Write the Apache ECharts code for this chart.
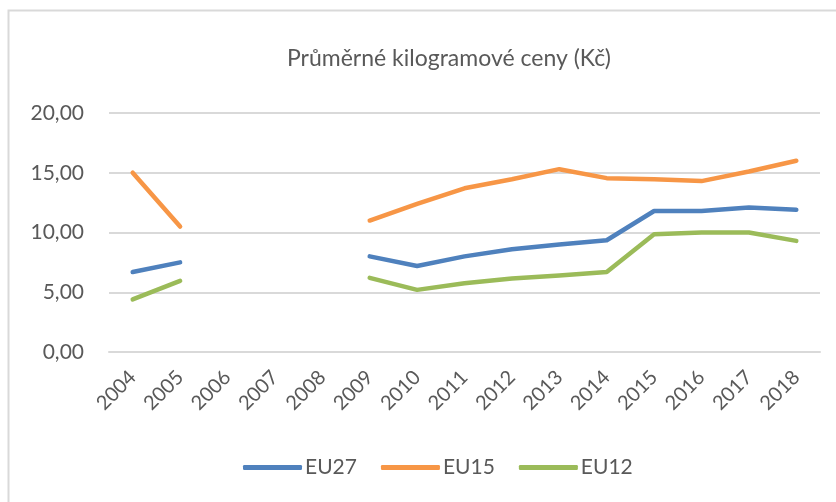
<!DOCTYPE html>
<html>
<head>
<meta charset="utf-8">
<script src="https://cdn.jsdelivr.net/npm/echarts@6/dist/echarts.min.js"></script>
<style>
  html, body { margin: 0; padding: 0; background: #fff; }
  #chart { width: 836px; height: 502px; }
</style>
</head>
<body>
<div id="chart"></div>
<script>
// roky
var years = ['2004', '2005', '2006', '2007', '2008', '2009', '2010', '2011', '2012', '2013', '2014', '2015', '2016', '2017', '2018']
// prumerne kilogramove ceny (Kc), null = chybi data
var eu27 = [6.7, 7.5, null, null, null, 8.0, 7.2, 8.0, 8.6, 9.0, 9.35, 11.8, 11.8, 12.1, 11.9]
var eu15 = [15.0, 10.5, null, null, null, 11.0, 12.4, 13.7, 14.45, 15.3, 14.55, 14.45, 14.3, 15.1, 16.0]
var eu12 = [4.4, 5.95, null, null, null, 6.2, 5.2, 5.75, 6.15, 6.4, 6.7, 9.85, 10.0, 10.0, 9.3]
var yTicks = [0, 5, 10, 15, 20]

var textColor = '#595959'
var font = 'Lato, "Open Sans", sans-serif'

var chart = echarts.init(document.getElementById('chart'))

function makeSeries(name, data, color) {
  return {
    name: name,
    type: 'line',
    data: data,
    showSymbol: false,
    symbol: 'none',
    connectNulls: false,
    lineStyle: { color: color, width: 4.5, cap: 'round', join: 'round' },
    itemStyle: { color: color },
    animation: false
  }
}

chart.setOption({
  backgroundColor: '#fff',
  graphic: [{
    type: 'rect',
    shape: { x: 8.5, y: 10.5, width: 840, height: 500 },
    style: { fill: 'none', stroke: '#d9d9d9', lineWidth: 2 },
    silent: true
  }],
  title: {
    text: 'Průměrné kilogramové ceny (Kč)',
    left: 282,
    top: 42,
    textStyle: { color: textColor, fontFamily: font, fontSize: 23, fontWeight: 'normal' }
  },
  grid: { left: 109, right: 16, top: 113, bottom: 150 },
  legend: {
    data: ['EU27', 'EU15', 'EU12'],
    left: 238,
    top: 452,
    icon: 'roundRect',
    itemWidth: 59,
    itemHeight: 5,
    itemGap: 24,
    textStyle: { color: textColor, fontFamily: font, fontSize: 21, padding: [0, 0, 0, -2] }
  },
  xAxis: {
    type: 'category',
    data: years,
    boundaryGap: true,
    axisLine: { show: true, lineStyle: { color: '#d9d9d9', width: 2 } },
    axisTick: { show: false },
    axisLabel: { rotate: 45, margin: 22, color: textColor, fontFamily: font, fontSize: 20, interval: 0 }
  },
  yAxis: {
    type: 'value',
    min: yTicks[0],
    max: yTicks[yTicks.length - 1],
    interval: 5,
    axisLine: { show: false },
    axisTick: { show: false },
    splitLine: { lineStyle: { color: '#d9d9d9', width: 2 } },
    axisLabel: {
      margin: 25,
      color: textColor,
      fontFamily: font,
      fontSize: 21,
      formatter: function (v) { return v.toFixed(2).replace('.', ',') }
    }
  },
  series: [
    makeSeries('EU27', eu27, '#4f81bd'),
    makeSeries('EU15', eu15, '#f79646'),
    makeSeries('EU12', eu12, '#9bbb59')
  ]
})
</script>
</body>
</html>
